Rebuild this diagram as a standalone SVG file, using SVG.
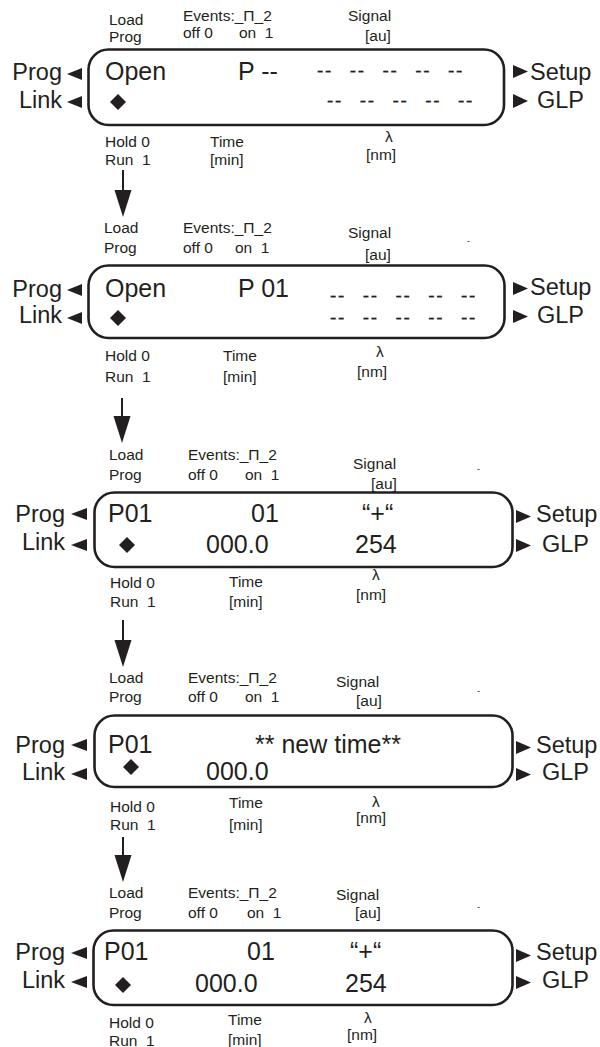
<svg xmlns="http://www.w3.org/2000/svg" width="600" height="1047" viewBox="0 0 600 1047">
<style>
text{font-family:"Liberation Sans",Arial,sans-serif;fill:#231f20;white-space:pre}
.s{font-size:15.5px}
.b{font-size:25px}
.d{font-size:19px;letter-spacing:1.7px;word-spacing:9.7px;stroke:#231f20;stroke-width:0.35}
.sd{font-size:23.5px}
.e{text-anchor:end}
.t{font-size:9px}
.box{fill:none;stroke:#231f20;stroke-width:2.6}
.tri{fill:#231f20}
.ln{stroke:#231f20;stroke-width:2;fill:none}
</style>
<rect width="600" height="1047" fill="#fff"/>

<g id="panel1">
<text class="s" x="109" y="25">Load</text><text class="s" x="109" y="42">Prog</text>
<text class="s" x="183" y="21">Events:_Π_2</text><text class="s" x="183" y="38">off 0</text><text class="s" x="239" y="38">on  1</text>
<text class="s" x="348" y="21">Signal</text><text class="s" x="365" y="41">[au]</text>
<rect class="box" x="88.5" y="49.5" width="415.5" height="75.5" rx="20"/>
<text class="sd e" x="62" y="80">Prog</text><polygon class="tri" points="67,74 82,68 82,80"/>
<text class="sd e" x="62" y="108">Link</text><polygon class="tri" points="67,102 82,96 82,108"/>
<polygon class="tri" points="513,65 513,78 528,71.5"/><text class="sd" x="530" y="80">Setup</text>
<polygon class="tri" points="513,94 513,108 528,101"/><text class="sd" x="537" y="108">GLP</text>
<text class="b" x="105" y="80">Open</text><text class="b" x="238" y="80">P --</text>
<text class="d" x="317" y="77">-- -- -- -- --</text><text class="d" x="327" y="107">-- -- -- -- --</text>
<polygon class="tri" points="118,94 126,102 118,110 110,102"/>
<text class="s" x="105" y="147">Hold 0</text><text class="s" x="105" y="165">Run  1</text>
<text class="s" x="210" y="147">Time</text><text class="s" x="210" y="165">[min]</text>
<text class="s" x="385" y="142">λ</text><text class="s" x="366" y="160">[nm]</text>
</g>

<g id="panel2">
<text class="s" x="104" y="233">Load</text><text class="s" x="104" y="253">Prog</text>
<text class="s" x="183" y="233">Events:_Π_2</text><text class="s" x="183" y="253">off 0</text><text class="s" x="235" y="253">on  1</text>
<text class="s" x="348" y="238">Signal</text><text class="s" x="365" y="260">[au]</text>
<text class="t" x="467" y="244">-</text>
<rect class="box" x="88.5" y="265.5" width="416" height="72.5" rx="20"/>
<text class="sd e" x="62" y="297">Prog</text><polygon class="tri" points="67,290 82,284 82,296"/>
<text class="sd e" x="62" y="323">Link</text><polygon class="tri" points="67,318 82,312 82,324"/>
<polygon class="tri" points="513,282 513,295 528,288.5"/><text class="sd" x="530" y="295">Setup</text>
<polygon class="tri" points="513,310 513,323 528,316.5"/><text class="sd" x="537" y="323">GLP</text>
<text class="b" x="105" y="297">Open</text><text class="b" x="238" y="297">P 01</text>
<text class="d" x="330" y="302">-- -- -- -- --</text><text class="d" x="330" y="323.5">-- -- -- -- --</text>
<polygon class="tri" points="118,310 126,318 118,326 110,318"/>
<text class="s" x="105" y="361">Hold 0</text><text class="s" x="105" y="382">Run  1</text>
<text class="s" x="223" y="361">Time</text><text class="s" x="223" y="382">[min]</text>
<text class="s" x="376" y="357">λ</text><text class="s" x="357" y="377">[nm]</text>
</g>

<g id="panel3">
<text class="s" x="109" y="460">Load</text><text class="s" x="109" y="480">Prog</text>
<text class="s" x="188" y="460">Events:_Π_2</text><text class="s" x="188" y="480">off 0</text><text class="s" x="245" y="480">on  1</text>
<text class="s" x="353" y="469">Signal</text><text class="s" x="371" y="489">[au]</text>
<text class="t" x="477" y="472">-</text>
<rect class="box" x="94.5" y="492.5" width="418" height="74.5" rx="20"/>
<text class="sd e" x="65" y="522">Prog</text><polygon class="tri" points="71,514 87,508 87,520"/>
<text class="sd e" x="65" y="550">Link</text><polygon class="tri" points="71,545 87,539 87,551"/>
<polygon class="tri" points="516,510 516,523 531,516.5"/><text class="sd" x="536" y="522">Setup</text>
<polygon class="tri" points="516,539 516,552 531,545.5"/><text class="sd" x="542" y="552">GLP</text>
<text class="b" x="108" y="522">P01</text><text class="b" x="251" y="522">01</text><text class="b" x="362" y="522">“+“</text>
<polygon class="tri" points="127,537 135,545 127,553 119,545"/>
<text class="b" x="206" y="553">000.0</text><text class="b" x="355" y="553">254</text>
<text class="s" x="110" y="588">Hold 0</text><text class="s" x="110" y="607">Run  1</text>
<text class="s" x="229" y="587">Time</text><text class="s" x="229" y="607">[min]</text>
<text class="s" x="372" y="580">λ</text><text class="s" x="356" y="600">[nm]</text>
</g>

<g id="panel4">
<text class="s" x="109" y="683">Load</text><text class="s" x="109" y="702">Prog</text>
<text class="s" x="188" y="683">Events:_Π_2</text><text class="s" x="188" y="702">off 0</text><text class="s" x="245" y="702">on  1</text>
<text class="s" x="336" y="687">Signal</text><text class="s" x="356" y="706">[au]</text>
<text class="t" x="477" y="694">-</text>
<rect class="box" x="94.5" y="715.5" width="418" height="71.5" rx="20"/>
<text class="sd e" x="65" y="753">Prog</text><polygon class="tri" points="71,745 87,739 87,751"/>
<text class="sd e" x="65" y="780">Link</text><polygon class="tri" points="71,774 87,768 87,780"/>
<polygon class="tri" points="516,741 516,754 531,747.5"/><text class="sd" x="536" y="753">Setup</text>
<polygon class="tri" points="516,768 516,781 531,774.5"/><text class="sd" x="542" y="780">GLP</text>
<text class="b" x="108" y="753">P01</text><text class="b" x="255" y="753">** new time**</text>
<polygon class="tri" points="131,759 139,767 131,775 123,767"/>
<text class="b" x="206" y="780">000.0</text>
<text class="s" x="110" y="812">Hold 0</text><text class="s" x="110" y="830">Run  1</text>
<text class="s" x="229" y="808">Time</text><text class="s" x="229" y="830">[min]</text>
<text class="s" x="372" y="807">λ</text><text class="s" x="356" y="823">[nm]</text>
</g>

<g id="panel5">
<text class="s" x="109" y="898">Load</text><text class="s" x="109" y="918">Prog</text>
<text class="s" x="188" y="898">Events:_Π_2</text><text class="s" x="188" y="918">off 0</text><text class="s" x="247" y="918">on  1</text>
<text class="s" x="336" y="900">Signal</text><text class="s" x="355" y="918">[au]</text>
<text class="t" x="477" y="910">-</text>
<rect class="box" x="93.5" y="930.5" width="419" height="74.5" rx="20"/>
<text class="sd e" x="65" y="960">Prog</text><polygon class="tri" points="71,953 87,947 87,959"/>
<text class="sd e" x="65" y="988">Link</text><polygon class="tri" points="71,982 87,976 87,988"/>
<polygon class="tri" points="516,949 516,962 531,955.5"/><text class="sd" x="536" y="960">Setup</text>
<polygon class="tri" points="516,976 516,989 531,982.5"/><text class="sd" x="542" y="988">GLP</text>
<text class="b" x="104" y="960">P01</text><text class="b" x="247" y="960">01</text><text class="b" x="350" y="960">“+“</text>
<polygon class="tri" points="123,977 131,985 123,993 115,985"/>
<text class="b" x="195" y="992">000.0</text><text class="b" x="345" y="992">254</text>
<text class="s" x="109" y="1028">Hold 0</text><text class="s" x="109" y="1046">Run  1</text>
<text class="s" x="228" y="1025">Time</text><text class="s" x="228" y="1045">[min]</text>
<text class="s" x="364" y="1023">λ</text><text class="s" x="347" y="1040">[nm]</text>
</g>

<g id="connectors">
<line class="ln" x1="123" y1="170" x2="123" y2="192"/><polygon class="tri" points="114.5,190 131.5,190 123,217"/>
<line class="ln" x1="122" y1="398" x2="122" y2="418"/><polygon class="tri" points="113.5,416 130.5,416 122,443"/>
<line class="ln" x1="123" y1="620" x2="123" y2="642"/><polygon class="tri" points="114.5,640 131.5,640 123,667"/>
<line class="ln" x1="123" y1="837" x2="123" y2="857"/><polygon class="tri" points="114.5,855 131.5,855 123,882"/>
</g>
</svg>
